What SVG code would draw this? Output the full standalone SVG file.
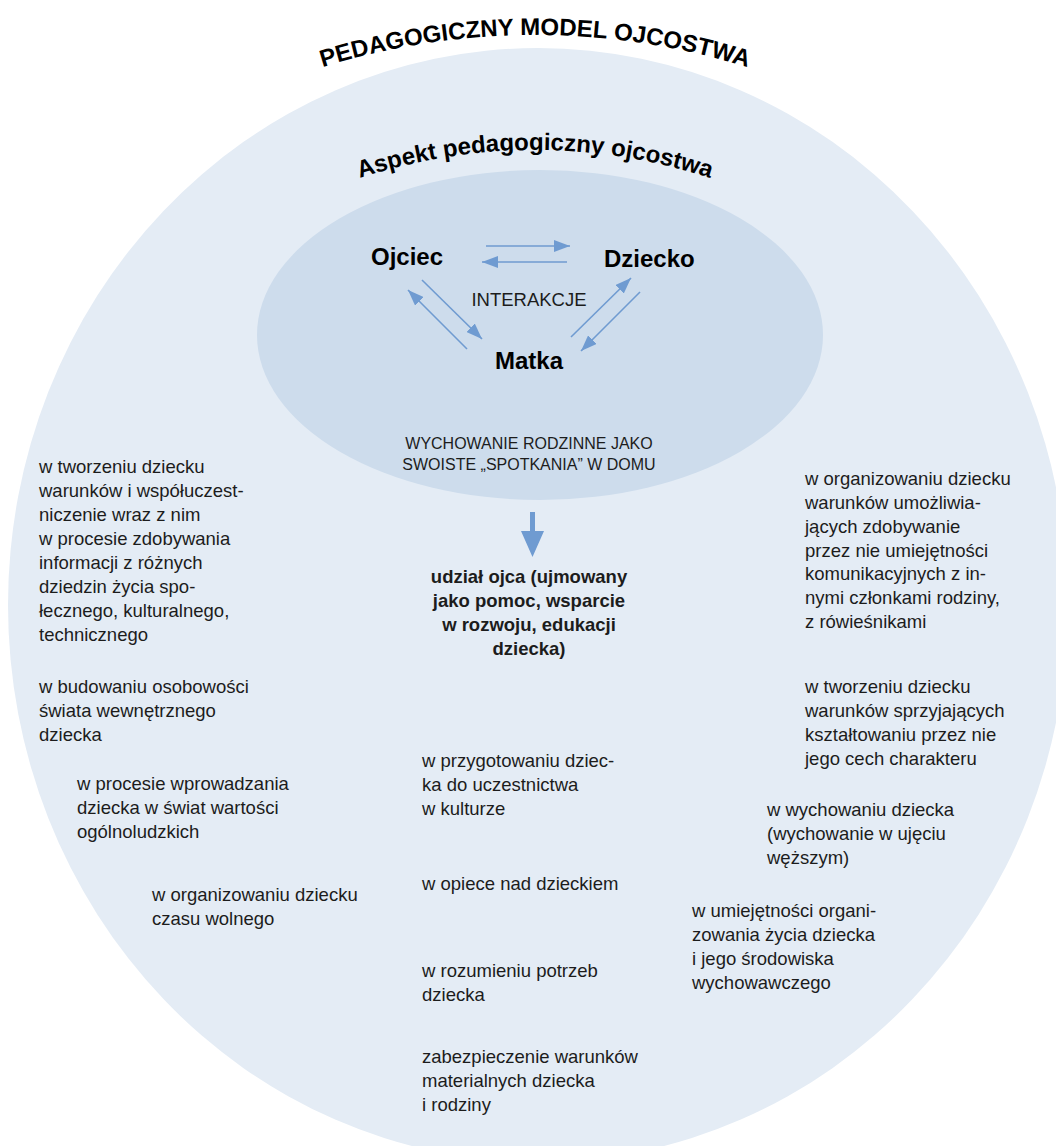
<svg xmlns="http://www.w3.org/2000/svg" width="1056" height="1146" viewBox="0 0 1056 1146">
<style>
.t{font-family:"Liberation Sans",Arial,sans-serif;font-size:18.5px;fill:#1c1c1c}
.b{font-weight:bold}
.big{font-family:"Liberation Sans",Arial,sans-serif;font-size:24px;font-weight:bold;fill:#000}
.sm{font-family:"Liberation Sans",Arial,sans-serif;font-size:16px;fill:#1c1c1c}
.con line{stroke:#6f9bd1;stroke-width:1.6;fill:none;marker-end:url(#ah)}
</style>
<defs>
<marker id="ah" markerUnits="userSpaceOnUse" markerWidth="16" markerHeight="12" refX="16" refY="6" orient="auto">
<path d="M0,0 L16,6 L0,12 z" fill="#6f9bd1"/>
</marker>
<path id="arc1" d="M235,100.7 A718,718 0 0 1 835,100.7"/>
<path id="arc2" d="M235,237 A561,561 0 0 1 835,237"/>
</defs>
<rect width="1056" height="1146" fill="#fff"/>
<g id="outer">
<ellipse cx="538" cy="605" rx="530" ry="557" fill="#e4ecf5"/>
</g>
<g id="title">
<text class="big"><textPath href="#arc1" startOffset="50%" text-anchor="middle">PEDAGOGICZNY MODEL OJCOSTWA</textPath></text>
</g>
<g id="aspect">
<text class="big"><textPath href="#arc2" startOffset="50%" text-anchor="middle">Aspekt pedagogiczny ojcostwa</textPath></text>
</g>
<g id="inner">
<ellipse cx="540" cy="335" rx="283" ry="165" fill="#cddcec"/>
</g>
<g id="ojciec"><text class="big" x="371" y="265">Ojciec</text></g>
<g id="dziecko"><text class="big" x="604" y="267">Dziecko</text></g>
<g id="matka"><text class="big" x="529" y="369" text-anchor="middle">Matka</text></g>
<g id="interakcje"><text class="t" x="529" y="306" text-anchor="middle">INTERAKCJE</text></g>
<g id="wychowanie">
<text class="sm" text-anchor="middle"><tspan x="529" y="449">WYCHOWANIE RODZINNE JAKO</tspan><tspan x="529" y="470">SWOISTE „SPOTKANIA” W DOMU</tspan></text>
</g>
<g class="con" id="connectors">
<line x1="486" y1="246" x2="570" y2="246"/>
<line x1="567" y1="262" x2="482" y2="262"/>
<line x1="422" y1="280" x2="482" y2="339"/>
<line x1="467" y1="349" x2="408" y2="290"/>
<line x1="571" y1="337" x2="631" y2="278"/>
<line x1="640" y1="292" x2="581" y2="351"/>
<polygon points="530,512 535,512 535,531 544,531 532.5,557 521,531 530,531" fill="#6f9bd1"/>
</g>
<g id="udzial">
<text class="t b" text-anchor="middle"><tspan x="529" y="583">udział ojca (ujmowany</tspan><tspan x="529" y="607">jako pomoc, wsparcie</tspan><tspan x="529" y="631">w rozwoju, edukacji</tspan><tspan x="529" y="655">dziecka)</tspan></text>
</g>
<g id="l1"><text class="t"><tspan x="39" y="473">w tworzeniu dziecku</tspan><tspan x="39" y="497">warunków i współuczest-</tspan><tspan x="39" y="521">niczenie wraz z nim</tspan><tspan x="39" y="545">w procesie zdobywania</tspan><tspan x="39" y="569">informacji z różnych</tspan><tspan x="39" y="593">dziedzin życia spo-</tspan><tspan x="39" y="617">łecznego, kulturalnego,</tspan><tspan x="39" y="641">technicznego</tspan></text></g>
<g id="l2"><text class="t"><tspan x="39" y="693">w budowaniu osobowości</tspan><tspan x="39" y="717">świata wewnętrznego</tspan><tspan x="39" y="741">dziecka</tspan></text></g>
<g id="l3"><text class="t"><tspan x="77" y="790">w procesie wprowadzania</tspan><tspan x="77" y="814">dziecka w świat wartości</tspan><tspan x="77" y="838">ogólnoludzkich</tspan></text></g>
<g id="l4"><text class="t"><tspan x="152" y="901">w organizowaniu dziecku</tspan><tspan x="152" y="925">czasu wolnego</tspan></text></g>
<g id="m1"><text class="t"><tspan x="422" y="767">w przygotowaniu dziec-</tspan><tspan x="422" y="791">ka do uczestnictwa</tspan><tspan x="422" y="815">w kulturze</tspan></text></g>
<g id="m2"><text class="t" x="422" y="890">w opiece nad dzieckiem</text></g>
<g id="m3"><text class="t"><tspan x="422" y="977">w rozumieniu potrzeb</tspan><tspan x="422" y="1001">dziecka</tspan></text></g>
<g id="m4"><text class="t"><tspan x="422" y="1063">zabezpieczenie warunków</tspan><tspan x="422" y="1087">materialnych dziecka</tspan><tspan x="422" y="1111">i rodziny</tspan></text></g>
<g id="r1"><text class="t"><tspan x="805" y="485">w organizowaniu dziecku</tspan><tspan x="805" y="509">warunków umożliwia-</tspan><tspan x="805" y="533">jących zdobywanie</tspan><tspan x="805" y="557">przez nie umiejętności</tspan><tspan x="805" y="580">komunikacyjnych z in-</tspan><tspan x="805" y="604">nymi członkami rodziny,</tspan><tspan x="805" y="628">z rówieśnikami</tspan></text></g>
<g id="r2"><text class="t"><tspan x="805" y="693">w tworzeniu dziecku</tspan><tspan x="805" y="717">warunków sprzyjających</tspan><tspan x="805" y="741">kształtowaniu przez nie</tspan><tspan x="805" y="765">jego cech charakteru</tspan></text></g>
<g id="r3"><text class="t"><tspan x="767" y="816">w wychowaniu dziecka</tspan><tspan x="767" y="840">(wychowanie w ujęciu</tspan><tspan x="767" y="864">węższym)</tspan></text></g>
<g id="r4"><text class="t"><tspan x="692" y="917">w umiejętności organi-</tspan><tspan x="692" y="941">zowania życia dziecka</tspan><tspan x="692" y="965">i jego środowiska</tspan><tspan x="692" y="989">wychowawczego</tspan></text></g>
</svg>
